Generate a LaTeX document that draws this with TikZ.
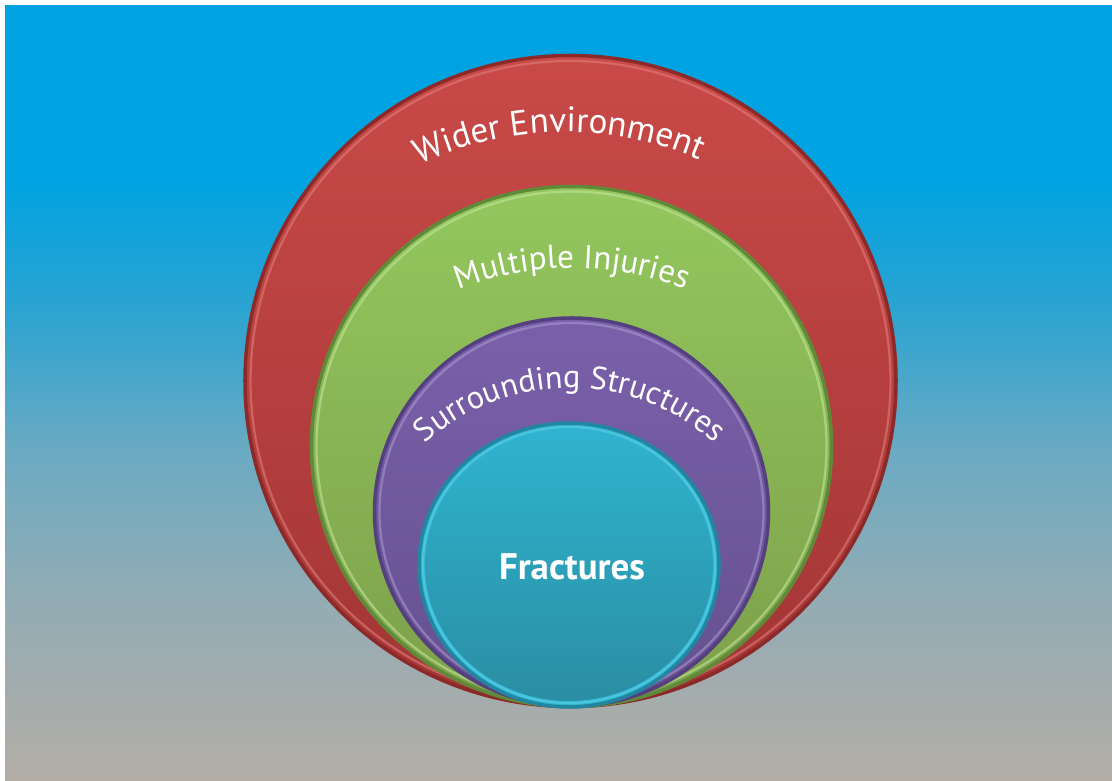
\documentclass[tikz,border=0pt]{standalone}
\usepackage{fontspec}
\setmainfont{PT Sans}
\usetikzlibrary{decorations.text}

% backdrop colours
\definecolor{bgtop}{HTML}{00A3E2}
\definecolor{bghigh}{HTML}{28A3D2}
\definecolor{bgmid}{HTML}{6AAAC2}
\definecolor{bglow}{HTML}{93ACB4}
\definecolor{bgbot}{HTML}{B3ADA6}
% ring colours
\definecolor{redtop}{HTML}{C94A48}
\definecolor{redbot}{HTML}{A23535}
\definecolor{rededge}{HTML}{8C2A2A}
\definecolor{redhi}{HTML}{E07C78}
\definecolor{greentop}{HTML}{93C75E}
\definecolor{greenbot}{HTML}{7DA04A}
\definecolor{greenedge}{HTML}{5E8A3A}
\definecolor{greenhi}{HTML}{C2E49A}
\definecolor{purptop}{HTML}{7A60AA}
\definecolor{purpbot}{HTML}{66508F}
\definecolor{purpedge}{HTML}{55407F}
\definecolor{purphi}{HTML}{A896D0}
\definecolor{tealtop}{HTML}{2FB4D0}
\definecolor{tealbot}{HTML}{2A8DA2}
\definecolor{tealedge}{HTML}{2386A0}
\definecolor{tealhi}{HTML}{5FD0E8}

\pgfdeclareverticalshading{backdrop}{100bp}{color(0bp)=(bgbot); color(25bp)=(bgbot);
  color(36.7bp)=(bglow); color(46.4bp)=(bgmid); color(56bp)=(bghigh);
  color(64bp)=(bgtop); color(100bp)=(bgtop)}

\tikzset{
  ringlabel/.style 2 args={decorate, decoration={text along path, text align=center,
      text color=white, text={|\fontsize{#1}{#1}\selectfont|#2}}},
  rim/.style={line width=2pt, draw=#1},
  glint/.style={line width=1.3pt, draw=#1, opacity=0.6}
}

\begin{document}
\begin{tikzpicture}[x=0.2mm, y=-0.2mm]
  \useasboundingbox (0,0) rectangle (1112,781);
  \fill[white] (0,0) rectangle (1112,781);
  \shade[shading=backdrop] (5,6) rectangle (1112,781);

  \coordinate (wider) at (570.5,381);
  \coordinate (multi) at (571.5,446.5);
  \coordinate (surr) at (571.5,512);
  \coordinate (fract) at (569,565);

  % wider environment
  \shade[top color=redtop, bottom color=redbot] (wider) circle[radius=326.5];
  \draw[rim=rededge] (wider) circle[radius=325.5];
  \draw[glint=redhi] (wider) circle[radius=320];
  % multiple injuries
  \shade[top color=greentop, bottom color=greenbot] (multi) circle[radius=261];
  \draw[rim=greenedge] (multi) circle[radius=260];
  \draw[glint=greenhi] (multi) circle[radius=255];
  % surrounding structures
  \shade[top color=purptop, bottom color=purpbot] (surr) ellipse[x radius=198, y radius=195];
  \draw[rim=purpedge] (surr) ellipse[x radius=197, y radius=194];
  \draw[glint=purphi] (surr) ellipse[x radius=192, y radius=189];
  % fractures
  \shade[top color=tealtop, bottom color=tealbot] (fract) ellipse[x radius=151, y radius=143];
  \draw[line width=4pt, draw=tealtop] (fract) ellipse[x radius=147.5, y radius=139.5];
  \draw[rim=tealedge] (fract) ellipse[x radius=150, y radius=142];
  \draw[glint=tealhi] (fract) ellipse[x radius=146, y radius=138];

  % curved labels
  \coordinate (wl) at (565,474);
  \coordinate (ml) at (572,579);
  \coordinate (sl) at (570,605);
  \path[ringlabel={20}{Wider Environment}] (wl) ++(225:342) arc[start angle=225, end angle=313, radius=342];
  \path[ringlabel={18.8}{Multiple Injuries}] (ml) ++(230:311) arc[start angle=230, end angle=310, radius=311];
  \path[ringlabel={18.3}{Surrounding Structures}] (sl) ++(200:217) arc[start angle=200, end angle=340, radius=217];

  \node[font=\bfseries\fontsize{21}{24}\selectfont, text=white] (fractlbl) at (572,567) {Fractures};
\end{tikzpicture}
\end{document}
